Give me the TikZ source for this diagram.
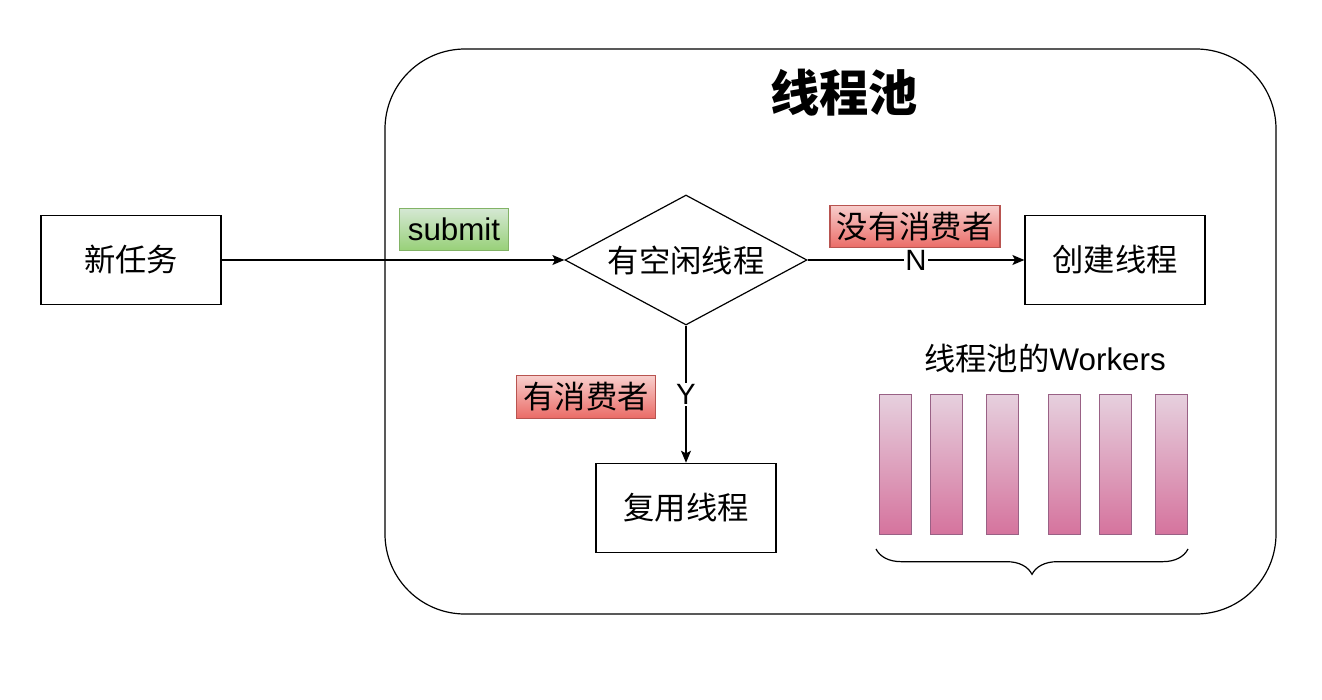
\documentclass[tikz,border=0pt]{standalone}
\usepackage{fontspec}
\setmainfont{Liberation Sans}
\newfontfamily\cjk{Noto Sans CJK SC}
\usetikzlibrary{shapes.geometric,arrows.meta,decorations.pathreplacing}
\definecolor{TagGreenTop}{HTML}{D5E8D4}
\definecolor{TagGreenBot}{HTML}{97D077}
\definecolor{TagGreenLine}{HTML}{82B366}
\definecolor{TagRedTop}{HTML}{F8CECC}
\definecolor{TagRedBot}{HTML}{EA6B66}
\definecolor{TagRedLine}{HTML}{B85450}
\definecolor{WorkerTop}{HTML}{E6D0DE}
\definecolor{WorkerBot}{HTML}{D5739D}
\definecolor{WorkerLine}{HTML}{996185}

\begin{document}
\begin{tikzpicture}[x=0.75pt,y=-0.75pt,line width=0.9pt,
    txt/.style={font=\cjk\fontsize{23.5}{27}\selectfont},
    box/.style={txt,draw,minimum width=135pt,minimum height=67pt},
    decision/.style={txt,draw,shape=diamond,shape aspect=1.86,minimum width=181.5pt,
      minimum height=97.5pt,inner sep=0pt},
    tag/.style={txt,draw,minimum height=32pt,inner xsep=5pt,inner ysep=0pt},
    greentag/.style={tag,top color=TagGreenTop,bottom color=TagGreenBot,draw=TagGreenLine},
    redtag/.style={tag,top color=TagRedTop,bottom color=TagRedBot,draw=TagRedLine},
    worker/.style={draw=WorkerLine,top color=WorkerTop,bottom color=WorkerBot,
      minimum width=24.5pt,minimum height=105.5pt,inner sep=0pt},
    arrow/.style={-{Stealth[length=9pt,width=7.5pt,inset=2pt]}},
    yn/.style={fill=white,inner sep=1pt,font=\fontsize{22}{26}\selectfont}]
  \useasboundingbox (0,0) rectangle (1322,700);

  % thread pool frame
  \draw[rounded corners=60pt] (385,49) rectangle (1276,614);
  \node[font=\cjk\bfseries\fontsize{37}{41}\selectfont] (title) at (844,93) {线程池};

  % flow
  \node[box] (task) at (131,260) {新任务};
  \node[decision] (idle) at (686,260) {有空闲线程};
  \node[box] (create) at (1115,260) {创建线程};
  \node[box] (reuse) at (686,508) {复用线程};

  \draw[arrow] (task) -- (idle);
  \draw[arrow] (idle) -- node[yn] (no) {N} (create);
  \draw[arrow] (idle) -- node[yn] (yes) {Y} (reuse);

  \node[greentag,font=\fontsize{23.5}{27}\selectfont,inner xsep=6pt] (submit) at (454,229.5) {submit};
  \node[redtag] (noconsumer) at (915,226.5) {没有消费者};
  \node[redtag] (consumer) at (586,397) {有消费者};

  % workers
  \node[txt] (workers) at (1045,358) {线程池的{\fontspec{Liberation Sans}Workers}};
  \foreach \x [count=\i] in {895.5,946.5,1002.5,1064.5,1115.5,1171.5}
    \node[worker] (w\i) at (\x,464.5) {};
  \coordinate (braceR) at (1188,549);
  \coordinate (braceL) at (876,549);
  \draw[decorate,decoration={brace,amplitude=19pt}] (braceR) -- (braceL);
\end{tikzpicture}
\end{document}
